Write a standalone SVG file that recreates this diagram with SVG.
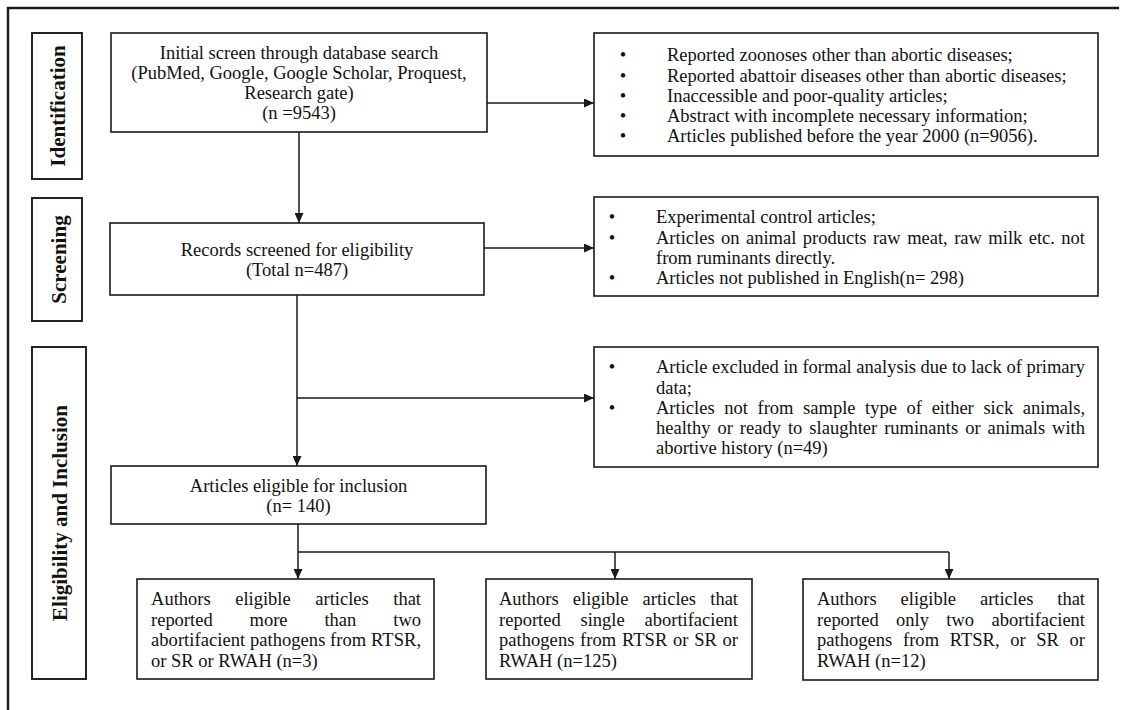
<svg xmlns="http://www.w3.org/2000/svg" width="1126" height="710" viewBox="0 0 1126 710">
<style>
.bg{fill:#fff}
.box{fill:#fff;stroke:#1a1a1a;stroke-width:1.6}
.lbl{fill:#fff;stroke:#1a1a1a;stroke-width:1.9}
.frame{fill:none;stroke:#1a1a1a;stroke-width:2.4}
.ln{fill:none;stroke:#1a1a1a;stroke-width:1.5}
text{font-family:"Liberation Serif","Times New Roman",serif;font-size:18.5px;fill:#111}
.c{text-anchor:middle}
.lt{font-weight:bold;font-size:21px;text-anchor:middle}
.b{text-anchor:middle}
</style>
<defs>
<marker id="ah" markerUnits="userSpaceOnUse" markerWidth="10" markerHeight="9" refX="10" refY="4.5" orient="auto">
<path d="M0,0 L10,4.5 L0,9 z" fill="#1a1a1a"/>
</marker>
</defs>
<rect class="bg" x="0" y="0" width="1126" height="710"/>
<path class="frame" d="M8,712 V8 H1119"/>

<g id="lbl_identification">
<rect class="lbl" x="32" y="33" width="50" height="146"/>
<text class="lt" transform="translate(65,106) rotate(-90)">Identification</text>
</g>
<g id="lbl_screening">
<rect class="lbl" x="32" y="198" width="50" height="123"/>
<text class="lt" transform="translate(66,259.5) rotate(-90)">Screening</text>
</g>
<g id="lbl_eligibility">
<rect class="lbl" x="32" y="347" width="54" height="332"/>
<text class="lt" transform="translate(67,513) rotate(-90)">Eligibility and Inclusion</text>
</g>

<g id="connectors">
<line class="ln" x1="487" y1="103" x2="594" y2="103" marker-end="url(#ah)"/>
<line class="ln" x1="299" y1="132" x2="299" y2="223" marker-end="url(#ah)"/>
<line class="ln" x1="484" y1="248" x2="594" y2="248" marker-end="url(#ah)"/>
<line class="ln" x1="297" y1="295" x2="297" y2="466" marker-end="url(#ah)"/>
<line class="ln" x1="297" y1="398" x2="594" y2="398" marker-end="url(#ah)"/>
<line class="ln" x1="298" y1="524" x2="298" y2="579" marker-end="url(#ah)"/>
<line class="ln" x1="298" y1="552" x2="949" y2="552"/>
<line class="ln" x1="615" y1="552" x2="615" y2="579" marker-end="url(#ah)"/>
<line class="ln" x1="949" y1="552" x2="949" y2="579" marker-end="url(#ah)"/>
</g>

<g id="n_initial">
<rect class="box" x="111" y="33" width="376" height="99"/>
<text class="c" x="299" y="59">Initial screen through database search</text>
<text class="c" x="299" y="79">(PubMed, Google, Google Scholar, Proquest,</text>
<text class="c" x="299" y="99">Research gate)</text>
<text class="c" x="299" y="119">(n =9543)</text>
</g>

<g id="n_excl1">
<rect class="box" x="594" y="33" width="504" height="123"/>
<text class="b" x="623" y="61">•</text>
<text class="b" x="623" y="81.5">•</text>
<text class="b" x="623" y="101.5">•</text>
<text class="b" x="623" y="122">•</text>
<text class="b" x="623" y="142">•</text>
<text x="667" y="61">Reported zoonoses other than abortic diseases;</text>
<text x="667" y="81.5">Reported abattoir diseases other than abortic diseases;</text>
<text x="667" y="101.5">Inaccessible and poor-quality articles;</text>
<text x="667" y="122">Abstract with incomplete necessary information;</text>
<text x="667" y="142">Articles published before the year 2000 (n=9056).</text>
</g>

<g id="n_screened">
<rect class="box" x="110" y="223" width="374" height="72"/>
<text class="c" x="297" y="256">Records screened for eligibility</text>
<text class="c" x="297" y="276">(Total n=487)</text>
</g>

<g id="n_excl2">
<rect class="box" x="594" y="197" width="504" height="99"/>
<text class="b" x="612" y="223">•</text>
<text class="b" x="612" y="243.5">•</text>
<text class="b" x="612" y="284">•</text>
<text x="656" y="223">Experimental control articles;</text>
<text x="656" y="243.5" style="word-spacing:1.8px" textLength="429" lengthAdjust="spacing">Articles on animal products raw meat, raw milk etc. not</text>
<text x="656" y="264">from ruminants directly.</text>
<text x="656" y="284">Articles not published in English(n= 298)</text>
</g>

<g id="n_excl3">
<rect class="box" x="594" y="347" width="504" height="120"/>
<text class="b" x="612" y="373">•</text>
<text class="b" x="612" y="414">•</text>
<text x="656" y="373" textLength="429" lengthAdjust="spacing">Article excluded in formal analysis due to lack of primary</text>
<text x="656" y="393.5">data;</text>
<text x="656" y="414" style="word-spacing:5px" textLength="429" lengthAdjust="spacing">Articles not from sample type of either sick animals,</text>
<text x="656" y="434" style="word-spacing:2.4px" textLength="429" lengthAdjust="spacing">healthy or ready to slaughter ruminants or animals with</text>
<text x="656" y="454">abortive history (n=49)</text>
</g>

<g id="n_eligible">
<rect class="box" x="111" y="466" width="375" height="58"/>
<text class="c" x="298.5" y="492">Articles eligible for inclusion</text>
<text class="c" x="298.5" y="512">(n= 140)</text>
</g>

<g id="n_more_two">
<rect class="box" x="137" y="579" width="297" height="100"/>
<text x="151" y="605" style="word-spacing:19.9px" textLength="270" lengthAdjust="spacing">Authors eligible articles that</text>
<text x="151" y="625.5" style="word-spacing:32.3px" textLength="270" lengthAdjust="spacing">reported more than two</text>
<text x="151" y="646" textLength="270" lengthAdjust="spacing">abortifacient pathogens from RTSR,</text>
<text x="151" y="666.5">or SR or RWAH (n=3)</text>
</g>

<g id="n_single">
<rect class="box" x="486" y="579" width="266" height="100"/>
<text x="499" y="605" style="word-spacing:9.6px" textLength="239" lengthAdjust="spacing">Authors eligible articles that</text>
<text x="499" y="625.5" style="word-spacing:15.2px" textLength="239" lengthAdjust="spacing">reported single abortifacient</text>
<text x="499" y="646" style="word-spacing:1px" textLength="239" lengthAdjust="spacing">pathogens from RTSR or SR or</text>
<text x="499" y="666.5">RWAH (n=125)</text>
</g>

<g id="n_only_two">
<rect class="box" x="803" y="579" width="295" height="101"/>
<text x="817" y="605" style="word-spacing:19.3px" textLength="268" lengthAdjust="spacing">Authors eligible articles that</text>
<text x="817" y="625.5" style="word-spacing:12.8px" textLength="268" lengthAdjust="spacing">reported only two abortifacient</text>
<text x="817" y="646" style="word-spacing:5.9px" textLength="268" lengthAdjust="spacing">pathogens from RTSR, or SR or</text>
<text x="817" y="666.5">RWAH (n=12)</text>
</g>
</svg>
